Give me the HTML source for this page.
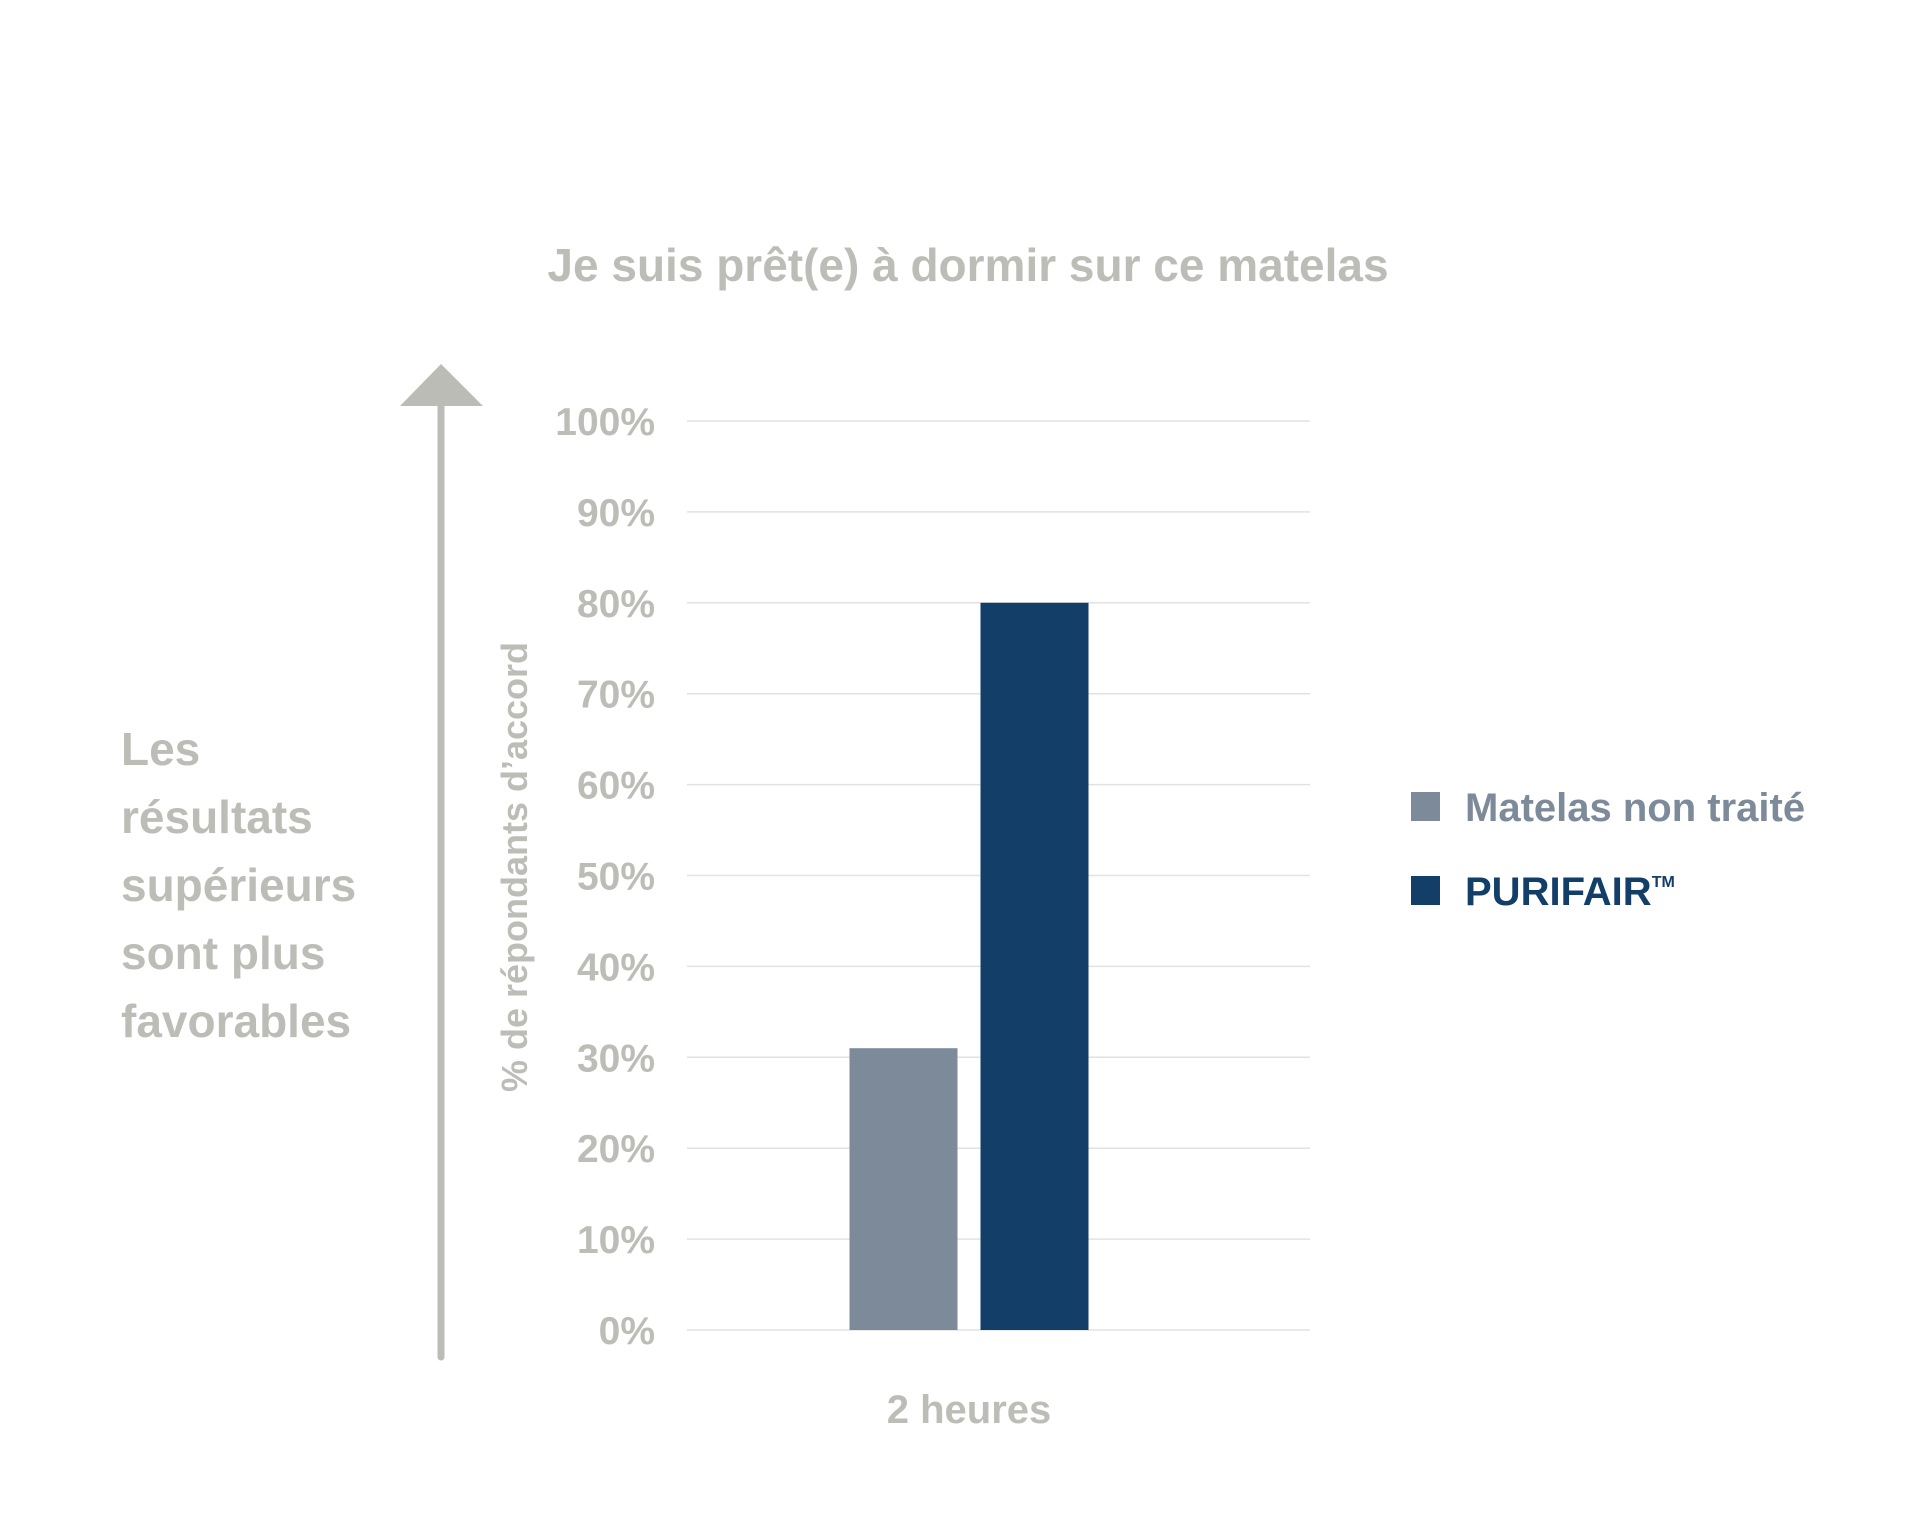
<!DOCTYPE html>
<html><head><meta charset="utf-8"><style>
html,body{margin:0;padding:0;background:#fff;}
body{width:1920px;height:1514px;position:relative;overflow:hidden;font-family:"Liberation Sans",sans-serif;}
svg{position:absolute;left:0;top:0;}
</style></head><body>
<svg width="1920" height="1514" id="chart">
<text x="968" y="281" text-anchor="middle" font-size="46" font-weight="bold" fill="#bdbdb8">Je suis prêt(e) à dormir sur ce matelas</text>
<g font-size="46" font-weight="bold" fill="#bdbdb8">
<text x="121" y="765">Les</text>
<text x="121" y="833">résultats</text>
<text x="121" y="901">supérieurs</text>
<text x="121" y="969">sont plus</text>
<text x="121" y="1037">favorables</text>
</g>
<g>
<line x1="441" y1="400" x2="441" y2="1357" stroke="#bcbcb6" stroke-width="7" stroke-linecap="round"/>
<polygon points="441,364 400,406 483,406" fill="#bcbcb6"/>
</g>
<text transform="translate(527,867) rotate(-90)" text-anchor="middle" font-size="36" font-weight="bold" fill="#bdbdb8">% de répondants d’accord</text>
<g id="grid"></g><g id="bars"></g>
<text x="969" y="1423" text-anchor="middle" font-size="40" font-weight="bold" fill="#bdbdb8">2 heures</text>
<g>
<rect x="1411" y="792" width="29" height="29" fill="#7d8a9a"/>
<text x="1465" y="821" font-size="40" font-weight="bold" fill="#7d8a9a">Matelas non traité</text>
<rect x="1411" y="876" width="29" height="29" fill="#123e68"/>
<text x="1465" y="905" font-size="40" font-weight="bold" fill="#123e68">PURIFAIR<tspan font-size="16" dy="-18">TM</tspan></text>
</g>
</svg>
<script>
const tickValues=[0,10,20,30,40,50,60,70,80,90,100];
const tickLabels=["0%","10%","20%","30%","40%","50%","60%","70%","80%","90%","100%"];
const seriesNames=["Matelas non traité","PURIFAIR"];
const seriesValues=[31,80];
const seriesColors=["#7d8a9a","#123e68"];
const NS="http://www.w3.org/2000/svg";
const y0=1330,y100=421,xL=687,xR=1310;
function yScale(v){return y0-(v/100)*(y0-y100);}
const grid=document.getElementById('grid');
tickValues.forEach((v,i)=>{
 const y=yScale(v);
 const l=document.createElementNS(NS,'line');
 l.setAttribute('x1',xL);l.setAttribute('x2',xR);l.setAttribute('y1',y);l.setAttribute('y2',y);
 l.setAttribute('stroke','#e2e2e2');l.setAttribute('stroke-width','1.5');
 
 
 grid.appendChild(l);
 const t=document.createElementNS(NS,'text');
 t.setAttribute('x',655);t.setAttribute('y',y+14);t.setAttribute('text-anchor','end');
 t.setAttribute('font-size','39');t.setAttribute('font-weight','bold');t.setAttribute('fill','#bdbdb8');
 t.textContent=tickLabels[i];
 
 
 grid.appendChild(t);
});
const bars=document.getElementById('bars');
const barW=108,gap=23,center=969;
const start=center-(seriesValues.length*barW+(seriesValues.length-1)*gap)/2;
seriesValues.forEach((v,i)=>{
 const r=document.createElementNS(NS,'rect');
 r.setAttribute('x',start+i*(barW+gap));r.setAttribute('width',barW);
 r.setAttribute('y',yScale(v));r.setAttribute('height',y0-yScale(v));
 r.setAttribute('fill',seriesColors[i]);
 
 
 bars.appendChild(r);
});
</script>
</body></html>
